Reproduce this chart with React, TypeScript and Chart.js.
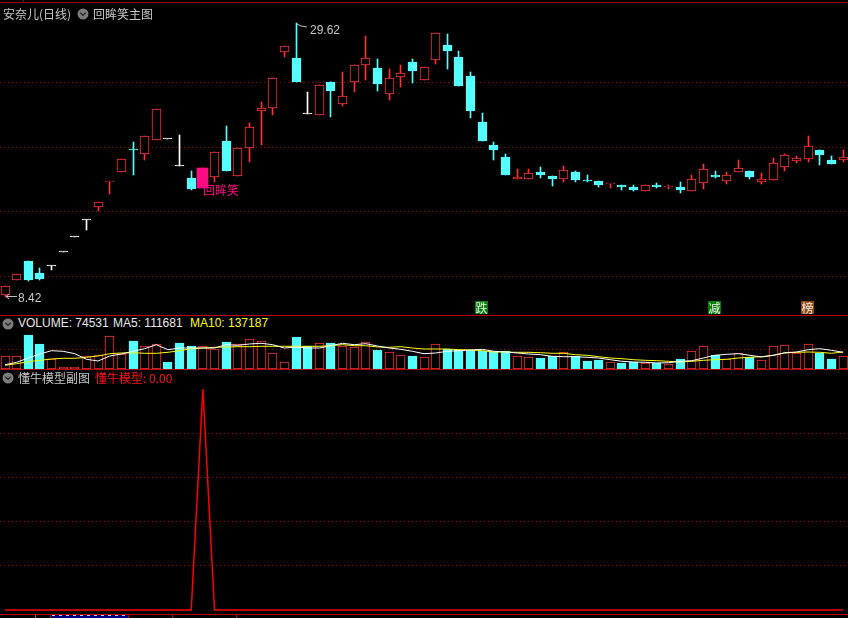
import React, { useEffect, useRef } from "react";
import { Chart, registerables } from "chart.js";

Chart.register(...registerables);

// ---- price data (daily candles) ----
const OPEN = [8.58, 9.74, 11.21, 10.28, 10.82, 11.9, 13.06, 14.38, 15.38, 17.32, 18.09, 19.87, 19.49, 20.57, 20.65, 18.56, 17.63, 16.85, 17.71, 20.49, 17.78, 19.95, 22.81, 23.04, 27.38, 26.91, 22.58, 22.5, 25.06, 23.35, 25.06, 26.37, 26.14, 24.13, 25.44, 26.6, 25.21, 26.76, 27.92, 26.99, 25.52, 21.96, 20.18, 19.25, 17.55, 17.55, 18.09, 17.78, 17.55, 18.09, 17.47, 17.4, 17.15, 17.09, 16.93, 16.62, 17.09, 16.93, 16.93, 16.62, 17.24, 17.86, 17.4, 18.09, 18.17, 17.32, 17.47, 18.48, 18.94, 19.1, 19.79, 19.02, 19.02];
const HIGH = [9.27, 10.2, 11.21, 10.67, 10.82, 11.9, 13.06, 14.38, 15.77, 17.4, 19.1, 20.41, 20.88, 22.97, 20.65, 20.96, 18.17, 18.4, 19.64, 21.65, 19.95, 21.88, 23.51, 25.36, 27.84, 29.62, 24.28, 24.82, 25.06, 25.83, 26.37, 28.61, 26.84, 26.06, 26.37, 26.84, 26.22, 28.85, 28.77, 27.45, 25.83, 22.66, 20.41, 19.49, 18.32, 18.32, 18.48, 17.78, 18.56, 18.17, 17.86, 17.4, 17.16, 17.09, 17.09, 17.09, 17.24, 17.09, 17.32, 17.86, 18.71, 18.17, 18.09, 19.02, 18.17, 18.01, 19.18, 19.49, 19.33, 20.88, 19.79, 19.33, 19.79];
const LOW = [8.42, 9.74, 9.66, 9.74, 10.51, 11.9, 13.06, 13.6, 15.07, 16.39, 18.09, 17.86, 19.02, 20.57, 20.65, 18.56, 16.7, 16.85, 17.32, 18.17, 17.78, 18.87, 20.18, 22.5, 26.99, 25.06, 22.58, 22.5, 22.35, 23.2, 24.28, 25.21, 24.36, 23.66, 24.67, 24.98, 25.21, 26.45, 26.06, 24.75, 22.27, 20.49, 19.02, 17.86, 17.55, 17.55, 17.63, 17.01, 17.32, 17.32, 17.32, 16.93, 16.85, 16.7, 16.62, 16.62, 16.85, 16.78, 16.47, 16.62, 16.78, 17.63, 17.16, 18.09, 17.55, 17.16, 17.47, 18.17, 18.79, 18.87, 18.63, 18.71, 18.87];
const CLOSE = [9.27, 10.2, 9.74, 9.81, 10.82, 11.9, 13.06, 14.38, 15.77, 17.4, 19.1, 19.79, 20.88, 22.97, 20.65, 18.56, 16.78, 18.4, 19.64, 18.17, 19.95, 21.57, 23.04, 25.36, 27.84, 25.06, 22.58, 24.82, 24.36, 23.97, 26.37, 26.91, 24.9, 25.36, 25.75, 25.91, 26.22, 28.85, 27.45, 24.75, 22.81, 20.49, 19.79, 17.86, 17.71, 18.01, 17.86, 17.55, 18.25, 17.47, 17.4, 17.09, 17.16, 16.93, 16.7, 17.09, 16.93, 16.94, 16.7, 17.55, 18.32, 17.71, 17.86, 18.4, 17.71, 17.55, 18.79, 19.41, 19.18, 20.1, 19.41, 18.71, 19.25];

// ---- volume data ----
const VOLUME = [74820, 75130, 194870, 143650, 57210, 11530, 11280, 74390, 80460, 189320, 86150, 160270, 131740, 143580, 40260, 148930, 132110, 131560, 114820, 154630, 143170, 171860, 160710, 91540, 40080, 183290, 131950, 149240, 148870, 131630, 126310, 154920, 108760, 97380, 80190, 74650, 68920, 143470, 114530, 109140, 108810, 103320, 97260, 103080, 74610, 68710, 63190, 74460, 97580, 74380, 45920, 51430, 40210, 34470, 40060, 34320, 34510, 28590, 57440, 103270, 131920, 80350, 57260, 91840, 68690, 51680, 131780, 137510, 91650, 143410, 91820, 57390, 74531];
const VOL_MA5 = [24650, 38410, 63060, 86000, 104910, 101470, 87710, 55610, 45860, 74530, 86000, 101470, 116380, 139310, 110650, 120390, 120390, 120390, 120390, 139310, 135870, 143330, 147340, 139310, 120390, 126130, 120390, 120390, 133580, 147340, 139310, 145040, 131860, 120390, 112940, 101470, 87710, 91730, 101470, 104910, 108930, 112940, 101470, 97460, 91730, 86000, 81980, 72810, 70520, 70520, 67080, 63060, 53320, 44140, 40130, 38410, 34400, 36120, 44140, 47580, 63060, 78540, 84280, 87710, 78540, 68800, 78540, 93450, 97460, 110650, 116380, 107210, 95740];
const VOL_MA10 = [21210, 30380, 41850, 49880, 57330, 61340, 61340, 67080, 74530, 87710, 91730, 93450, 90010, 90010, 95740, 104910, 116380, 120390, 124410, 126130, 127850, 127850, 130140, 130140, 130140, 130140, 130140, 130140, 133580, 139310, 133580, 133580, 126130, 124410, 127850, 120390, 114660, 114660, 114660, 110650, 108930, 104910, 97460, 97460, 95740, 95740, 93450, 90010, 90010, 81980, 78540, 70520, 63060, 59050, 53320, 49880, 47580, 44140, 40130, 44140, 49880, 53320, 55610, 63060, 67080, 70520, 78540, 91730, 95740, 97460, 95740, 90010, 97460];

// ---- 懂牛模型 sub-chart ----
const MODEL = [0, 0, 0, 0, 0, 0, 0, 0, 0, 0, 0, 0, 0, 0, 0, 0, 0, 100, 0, 0, 0, 0, 0, 0, 0, 0, 0, 0, 0, 0, 0, 0, 0, 0, 0, 0, 0, 0, 0, 0, 0, 0, 0, 0, 0, 0, 0, 0, 0, 0, 0, 0, 0, 0, 0, 0, 0, 0, 0, 0, 0, 0, 0, 0, 0, 0, 0, 0, 0, 0, 0, 0, 0];

// ---- markers / tick values ----
const SIGNAL_INDEX = 17; // 回眸笑
const TAG_TEXT = ["跌", "减", "榜"];
const TAG_INDEX = [41, 61, 69];
const PRICE_GRID = [10, 15, 20, 25];
const VOL_GRID = [114660];
const MODEL_GRID = [20, 40, 60, 80];
const HIGH_LABEL = "29.62";
const LOW_LABEL = "8.42";

// ---- styling ----
const W = 848;
const X_FIRST = 5;
const X_STEP = 11.64;
const X_MIN = -X_FIRST / X_STEP;
const X_MAX = X_MIN + W / X_STEP;
const UP = "#ff3232";
const DOWN = "#54ffff";
const FLAT = "#ffffff";
const SIG = "#ff0a82";
const GRID = "#a00000";
const SEP = "#b80000";
const CJK = '"Noto Sans CJK SC", "Noto Sans", sans-serif';
const LAT = '"Liberation Sans", Arial, sans-serif';

const N = OPEN.length;
const IDX = Array.from({ length: N }, (_, i) => i);
const dirOf = (i: number) => (CLOSE[i] > OPEN[i] ? 1 : CLOSE[i] < OPEN[i] ? -1 : 0);
const candleColor = (i: number) =>
  i === SIGNAL_INDEX ? SIG : dirOf(i) > 0 ? UP : dirOf(i) < 0 ? DOWN : FLAT;
const bodyFill = (i: number) => (dirOf(i) > 0 ? "#000000" : candleColor(i));
const volUp = (i: number) => {
  const d = dirOf(i);
  if (d !== 0) return d > 0;
  return i === 0 || CLOSE[i] >= CLOSE[i - 1];
};
const xAt = (i: number) => X_FIRST + X_STEP * i;

// snap bar elements to whole pixels so outlines stay crisp (like the terminal's rendering)
const snapPlugin = {
  id: "snapBars",
  beforeDatasetsDraw(chart: any) {
    chart.data.datasets.forEach((_: any, di: number) => {
      const meta = chart.getDatasetMeta(di);
      if (meta.type !== "bar") return;
      meta.data.forEach((el: any) => {
        el.x = Math.floor(el.x) + 0.5;
        el.y = Math.round(el.y);
        el.base = Math.round(el.base);
      });
    });
  },
};

function panelOptions(yMin: number, yMax: number, grid: number[]): any {
  return {
    animation: false,
    responsive: false,
    maintainAspectRatio: false,
    devicePixelRatio: 1,
    events: [],
    layout: { padding: 0 },
    plugins: { legend: { display: false }, tooltip: { enabled: false } },
    scales: {
      x: { type: "linear", display: false, min: X_MIN, max: X_MAX, offset: false },
      y: {
        type: "linear",
        min: yMin,
        max: yMax,
        display: true,
        ticks: { display: false },
        border: { display: false, dash: [1, 3] },
        grid: { color: GRID, lineWidth: 1, drawTicks: false, borderDash: [1, 3] },
        afterBuildTicks: (s: any) => {
          s.ticks = grid.map((v) => ({ value: v }));
        },
      },
    },
  };
}

// price mapping: page y 0 -> 31.40, page y 315 -> 7.03
const PRICE_MAX = 31.4;
const PRICE_MIN = 7.03;
// volume mapping: canvas y 330..370, 0 at y 369
const VOL_PX = 5733;
const VOL_MAX = 39 * VOL_PX;
const VOL_MIN = -1 * VOL_PX;
// model mapping: canvas y 385..614, 0 at y 610, 100 at y 389
const MODEL_MAX = 225 / 2.21;
const MODEL_MIN = -4 / 2.21;

const Icon = ({ x, y }: { x: number; y: number }) => (
  <svg style={{ position: "absolute", left: x, top: y }} width={12} height={12}>
    <circle cx={6} cy={6} r={5.5} fill="#7c7c7c" />
    <polyline points="3.3,4.8 6,7.4 8.7,4.8" fill="none" stroke="#262626" strokeWidth={1.4} />
  </svg>
);

const Txt = (p: { x: number; y: number; color: string; font?: string; size?: number; children: any }) => (
  <div
    style={{
      position: "absolute",
      left: p.x,
      top: p.y,
      color: p.color,
      fontFamily: p.font || CJK,
      fontSize: p.size || 12,
      lineHeight: `${p.size || 12}px`,
      whiteSpace: "nowrap",
    }}
  >
    {p.children}
  </div>
);

const HLine = ({ y, x = 0, w = W, color = SEP }: { y: number; x?: number; w?: number; color?: string }) => (
  <div style={{ position: "absolute", left: x, top: y, width: w, height: 1, background: color }} />
);

export default function App() {
  const priceRef = useRef<HTMLCanvasElement>(null);
  const volRef = useRef<HTMLCanvasElement>(null);
  const modelRef = useRef<HTMLCanvasElement>(null);

  useEffect(() => {
    const bodyIdx = IDX.filter((i) => i !== SIGNAL_INDEX);
    const price = new Chart(priceRef.current!, {
      type: "bar",
      data: {
        datasets: [
          {
            label: "signal",
            data: [{ x: SIGNAL_INDEX, y: [OPEN[SIGNAL_INDEX], CLOSE[SIGNAL_INDEX]] }],
            backgroundColor: SIG,
            borderColor: SIG,
            borderWidth: 0,
            barThickness: 11,
            grouped: false,
            order: 0,
          } as any,
          {
            label: "body",
            data: bodyIdx.map((i) => ({ x: i, y: [OPEN[i], CLOSE[i]] })),
            backgroundColor: bodyIdx.map(bodyFill),
            borderColor: bodyIdx.map(candleColor),
            borderWidth: 1,
            borderSkipped: false,
            barThickness: 9,
            minBarLength: 1,
            grouped: false,
            order: 1,
          },
          {
            label: "wick",
            data: IDX.map((i) => ({ x: i, y: [LOW[i], HIGH[i]] })),
            backgroundColor: IDX.map(candleColor),
            borderWidth: 0,
            barThickness: 1,
            grouped: false,
            order: 2,
          },
        ],
      },
      options: panelOptions(PRICE_MIN, PRICE_MAX, PRICE_GRID),
      plugins: [snapPlugin],
    });

    const vol = new Chart(volRef.current!, {
      type: "bar",
      data: {
        datasets: [
          {
            type: "line",
            label: "MA5",
            data: IDX.map((i) => ({ x: i, y: VOL_MA5[i] })),
            borderColor: "#ffffff",
            borderWidth: 1,
            pointRadius: 0,
            order: 0,
          } as any,
          {
            type: "line",
            label: "MA10",
            data: IDX.map((i) => ({ x: i, y: VOL_MA10[i] })),
            borderColor: "#ffff00",
            borderWidth: 1,
            pointRadius: 0,
            order: 1,
          },
          {
            label: "VOLUME",
            data: IDX.map((i) => ({ x: i, y: VOLUME[i] })),
            backgroundColor: IDX.map((i) => (volUp(i) ? "#000000" : DOWN)),
            borderColor: IDX.map((i) => (volUp(i) ? UP : DOWN)),
            borderWidth: 1,
            borderSkipped: false,
            barThickness: 9,
            grouped: false,
            order: 2,
          },
        ],
      },
      options: panelOptions(VOL_MIN, VOL_MAX, VOL_GRID),
      plugins: [snapPlugin],
    });

    const model = new Chart(modelRef.current!, {
      type: "line",
      data: {
        datasets: [
          {
            label: "懂牛模型",
            data: IDX.map((i) => ({ x: i, y: MODEL[i] })),
            borderColor: "#ff0000",
            borderWidth: 1.5,
            pointRadius: 0,
            tension: 0,
          },
        ],
      },
      options: panelOptions(MODEL_MIN, MODEL_MAX, MODEL_GRID),
    });

    return () => {
      price.destroy();
      vol.destroy();
      model.destroy();
    };
  }, []);

  const canvasStyle = (top: number, h: number): React.CSSProperties => ({
    position: "absolute",
    left: 0,
    top,
    width: W,
    height: h,
    display: "block",
  });

  const hiX = xAt(25);
  const tagBg = ["#008000", "#008000", "#944a14"];

  return (
    <div
      style={{
        position: "fixed",
        left: 0,
        top: 0,
        width: W,
        height: 618,
        background: "#000",
        overflow: "hidden",
      }}
    >
      <canvas ref={priceRef} width={W} height={315} style={canvasStyle(0, 315)} />
      <canvas ref={volRef} width={W} height={40} style={canvasStyle(330, 40)} />
      <canvas ref={modelRef} width={W} height={229} style={canvasStyle(385, 229)} />

      {/* frame lines */}
      <HLine y={2} color="#9a0000" />
      <div style={{ position: "absolute", left: 23, top: 0, width: 1, height: 3, background: "#9a0000" }} />
      <HLine y={315} />
      <HLine y={369} />
      <HLine y={614} />
      <div style={{ position: "absolute", left: 50, top: 615, width: 78, height: 3, background: "#000080" }} />
      <div style={{ position: "absolute", left: 52, top: 615, width: 74, height: 1, background: "repeating-linear-gradient(90deg, #c8c8d8 0 3px, transparent 3px 7px)" }} />
      {[35, 50, 128, 172, 236].map((x, k) => (
        <div key={k} style={{ position: "absolute", left: x, top: 615, width: 1, height: 3, background: k === 0 ? "#d05070" : SEP }} />
      ))}

      {/* main title */}
      <Txt x={3} y={7.5} color="#c8c8c8">安奈儿(日线)</Txt>
      <Icon x={77} y={8} />
      <Txt x={93} y={7.5} color="#c8c8c8">回眸笑主图</Txt>

      {/* high / low labels */}
      <svg style={{ position: "absolute", left: 0, top: 0 }} width={W} height={315}>
        <polyline points={`${hiX + 1},24 ${hiX + 5},26 ${hiX + 11},27`} fill="none" stroke="#c0c0c0" strokeWidth={1} />
        <line x1={6} y1={296.5} x2={17} y2={296.5} stroke="#c0c0c0" strokeWidth={1} />
        <polyline points="9,294 6,296.5 9,299" fill="none" stroke="#c0c0c0" strokeWidth={1} />
      </svg>
      <Txt x={hiX + 14} y={23.5} color="#c8c8c8" font={LAT}>{HIGH_LABEL}</Txt>
      <Txt x={18} y={291.5} color="#c8c8c8" font={LAT}>{LOW_LABEL}</Txt>
      <Txt x={xAt(SIGNAL_INDEX)} y={183.5} color={SIG}>回眸笑</Txt>

      {TAG_TEXT.map((t, k) => (
        <div
          key={t}
          style={{
            position: "absolute",
            left: Math.round(xAt(TAG_INDEX[k]) - 7.5),
            top: 301,
            width: 13,
            height: 13,
            background: tagBg[k],
            color: "#f0f0f0",
            fontFamily: CJK,
            fontSize: 12,
            lineHeight: "13px",
            textAlign: "center",
            overflow: "hidden",
          }}
        >
          {t}
        </div>
      ))}

      {/* volume header */}
      <Icon x={2} y={318} />
      <Txt x={18} y={317} color="#e8e8e8" font={LAT}>VOLUME: 74531</Txt>
      <Txt x={113} y={317} color="#e8e8e8" font={LAT}>MA5: 111681</Txt>
      <Txt x={190} y={317} color="#ffff00" font={LAT}>MA10: 137187</Txt>

      {/* model header */}
      <Icon x={2} y={372} />
      <Txt x={18} y={372} color="#c8c8c8">懂牛模型副图</Txt>
      <Txt x={95} y={372} color="#ff1010">懂牛模型: 0.00</Txt>
    </div>
  );
}
